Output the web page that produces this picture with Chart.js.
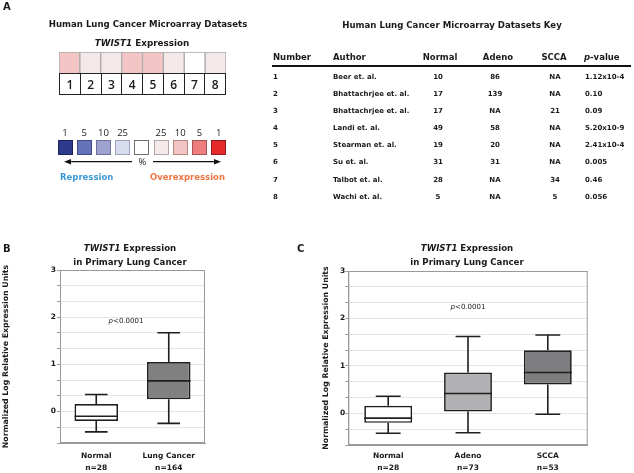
<!DOCTYPE html>
<html>
<head>
<meta charset="utf-8">
<script src="https://cdn.jsdelivr.net/npm/chart.js@4.4.1/dist/chart.umd.min.js"></script>
<style>
  body { margin: 0; width: 634px; height: 473px; position: relative; overflow: hidden; background: #fff;
         font-family: "DejaVu Sans", Verdana, sans-serif; color: #1a1a1a; }
  .txt { position: absolute; white-space: nowrap; line-height: 1; }
  canvas { position: absolute; }
  #nums { position: absolute; left: 59px; top: 73px; width: 167px; height: 22px; box-sizing: border-box;
          border: 1.5px solid #222; display: flex; font-family: "Open Sans", sans-serif; font-weight: 600; font-size: 12px; }
  #nums div { flex: 1; display: flex; align-items: center; justify-content: center; border-left: 1.5px solid #222; }
  #nums div:first-child { border-left: none; }
  .sw { position: absolute; width: 15px; height: 15px; box-sizing: border-box; border: 1.2px solid; }
  #rule { position: absolute; left: 272px; top: 65px; width: 359px; height: 2px; background: #111; }
</style>
</head>
<body>
<canvas id="heat" width="167" height="22" style="left:59px;top:52px"></canvas>
<div id="nums"></div>
<div id="rule"></div>
<svg width="634" height="473" style="position:absolute;left:0;top:0">
  <line x1="70" y1="161.7" x2="132" y2="161.7" stroke="#111" stroke-width="1.2"/>
  <polygon points="64,161.7 71,159 71,164.4" fill="#111"/>
  <line x1="153" y1="161.7" x2="215" y2="161.7" stroke="#111" stroke-width="1.2"/>
  <polygon points="221,161.7 214,159 214,164.4" fill="#111"/>
</svg>
<canvas id="boxB" width="215" height="233" style="left:0;top:240px"></canvas>
<canvas id="boxC" width="280" height="233" style="left:320px;top:240px"></canvas>
<script>
// heatmap: TWIST1 overexpression tier (top %) per dataset, 0 = not significant
const datasetIds = [1, 2, 3, 4, 5, 6, 7, 8];
const twistTier = [10, 25, 25, 10, 10, 25, 0, 25];

// colour key
const legendLabels = ['1', '5', '10', '25', '', '25', '10', '5', '1'];
const legendColors = ['#2e3a8c', '#6472b8', '#9da2cf', '#d8dcef', '#ffffff', '#f5e9e9', '#f3c4c4', '#ee7e7e', '#e42a2a'];
const legendEdges = ['#1c245e', '#3f4a87', '#6d729c', '#9ea3bb', '#6f6f6f', '#b3a5a5', '#b38585', '#a45454', '#8e1b1b'];
const overColor = { 0: '#ffffff', 25: '#f5e8e8', 10: '#f3c5c5' };

// key table
const authors = ['Beer et. al.', 'Bhattachrjee et. al.', 'Bhattachrjee et. al.', 'Landi et. al.',
  'Stearman et. al.', 'Su et. al.', 'Talbot et. al.', 'Wachi et. al.'];
const normalN = ['10', '17', '17', '49', '19', '31', '28', '5'];
const adenoN = ['86', '139', 'NA', '58', '20', '31', 'NA', 'NA'];
const sccaN = ['NA', 'NA', '21', 'NA', 'NA', 'NA', '34', '5'];
const pValues = ['1.12x10-4', '0.10', '0.09', '5.20x10-9', '2.41x10-4', '0.005', '0.46', '0.056'];

// panel B box plot
const groupsB = ['Normal', 'Lung Cancer'];
const countsB = [28, 164];
const minB = [-0.43, -0.25];
const q1B = [-0.20, 0.26];
const medianB = [-0.10, 0.65];
const q3B = [0.16, 1.05];
const maxB = [0.36, 1.67];

// panel C box plot
const groupsC = ['Normal', 'Adeno', 'SCCA'];
const countsC = [28, 73, 53];
const minC = [-0.42, -0.41, -0.02];
const q1C = [-0.20, 0.04, 0.61];
const medianC = [-0.10, 0.42, 0.86];
const q3C = [0.16, 0.86, 1.33];
const maxC = [0.36, 1.62, 1.65];

const yGridValues = [-2/3, -1/3, 0, 1/3, 2/3, 1, 4/3, 5/3, 2, 7/3, 8/3, 3];
const yTitle = 'Normalized Log Relative Expression Units';

function put(html, x, y, size, opts = {}) {
  const d = document.createElement('div');
  d.className = 'txt';
  d.innerHTML = html;
  d.style.left = x + 'px';
  d.style.top = y + 'px';
  d.style.fontSize = size + 'px';
  d.style.fontWeight = opts.weight || 'bold';
  d.style.transform = opts.align === 'left' ? 'translate(0,-50%)' : 'translate(-50%,-50%)';
  if (opts.color) d.style.color = opts.color;
  if (opts.font) d.style.fontFamily = opts.font;
  document.body.appendChild(d);
}

// ---- panel A text ----
put('A', 3, 7, 10, { align: 'left' });
put('Human Lung Cancer Microarray Datasets', 148, 24, 8.6);
put('Human Lung Cancer Microarray Datasets Key', 452, 25, 8.6);
put('<i>TWIST1</i> Expression', 142, 43, 8.8);

const nums = document.getElementById('nums');
datasetIds.forEach(n => {
  const c = document.createElement('div');
  c.textContent = n;
  nums.appendChild(c);
});

legendColors.forEach((col, i) => {
  const cx = 65 + i * 19.2;
  const s = document.createElement('div');
  s.className = 'sw';
  s.style.left = (cx - 7.5) + 'px';
  s.style.top = '140px';
  s.style.background = col;
  s.style.borderColor = legendEdges[i];
  document.body.appendChild(s);
  if (legendLabels[i]) put(legendLabels[i], cx, 132.7, 9.5, { weight: 500, font: '"Open Sans", sans-serif' });
});
put('%', 142.5, 162, 9.5, { weight: 500, font: '"Open Sans", sans-serif' });
put('Repression', 60, 176.7, 8.5, { align: 'left', color: '#3d9ad6' });
put('Overexpression', 150, 176.7, 8.5, { align: 'left', color: '#ef7444' });

// key table
put('Number', 273, 57.3, 8.5, { align: 'left' });
put('Author', 333, 57.3, 8.5, { align: 'left' });
put('Normal', 440, 57.3, 8.5);
put('Adeno', 498, 57.3, 8.5);
put('SCCA', 554, 57.3, 8.5);
put('<i>p</i>-value', 584, 57.3, 8.5, { align: 'left' });
authors.forEach((a, i) => {
  const y = 76.7 + i * 17.15;
  put(String(datasetIds[i]), 273, y, 7, { align: 'left' });
  put(a, 333, y, 7, { align: 'left' });
  put(normalN[i], 438, y, 7);
  put(adenoN[i], 495, y, 7);
  put(sccaN[i], 555, y, 7);
  put(pValues[i], 585, y, 7, { align: 'left' });
});

// ---- heatmap row ----
new Chart(document.getElementById('heat'), {
  type: 'bar',
  data: {
    labels: datasetIds,
    datasets: [{
      data: datasetIds.map(() => [0, 1]),
      backgroundColor: twistTier.map(t => overColor[t]),
      borderColor: '#a9a9a9',
      borderWidth: 1,
      borderSkipped: false,
      categoryPercentage: 1,
      barPercentage: 1
    }]
  },
  options: {
    responsive: false, animation: false, devicePixelRatio: 1,
    layout: { padding: 0 },
    plugins: { legend: { display: false }, tooltip: { enabled: false } },
    scales: { x: { display: false }, y: { display: false, min: 0, max: 1 } }
  }
});

// ---- box plots ----
const frame = {
  id: 'frame',
  beforeDatasetsDraw(chart) {
    const { ctx, chartArea: a } = chart;
    ctx.save();
    ctx.strokeStyle = '#9a9a9a';
    ctx.lineWidth = 1;
    ctx.strokeRect(a.left + 0.5, a.top + 0.5, a.right - a.left - 1, a.bottom - a.top - 1);
    ctx.restore();
  }
};

const whiskers = {
  id: 'whiskers',
  afterDatasetsDraw(chart, args, o) {
    const { ctx, scales: { y } } = chart;
    const meta = chart.getDatasetMeta(0);
    ctx.save();
    ctx.strokeStyle = '#1f1f1f';
    ctx.lineWidth = 1.6;
    meta.data.forEach((bar, i) => {
      const cx = bar.x, half = bar.width / 2, cap = bar.width * 0.26;
      const yMin = y.getPixelForValue(o.min[i]), yMax = y.getPixelForValue(o.max[i]);
      const yQ1 = y.getPixelForValue(o.q1[i]), yQ3 = y.getPixelForValue(o.q3[i]);
      const yMed = y.getPixelForValue(o.median[i]);
      ctx.beginPath();
      ctx.moveTo(cx, yQ3); ctx.lineTo(cx, yMax);
      ctx.moveTo(cx - cap, yMax); ctx.lineTo(cx + cap, yMax);
      ctx.moveTo(cx, yQ1); ctx.lineTo(cx, yMin);
      ctx.moveTo(cx - cap, yMin); ctx.lineTo(cx + cap, yMin);
      ctx.moveTo(cx - half, yMed); ctx.lineTo(cx + half, yMed);
      ctx.stroke();
    });
    ctx.restore();
  }
};

const pNote = {
  id: 'pNote',
  afterDraw(chart, args, o) {
    const { ctx, scales: { x, y } } = chart;
    const px = x.getPixelForValue(o.x), py = y.getPixelForValue(o.y);
    ctx.save();
    ctx.textBaseline = 'middle';
    ctx.fillStyle = '#1a1a1a';
    ctx.font = 'italic 7px "DejaVu Sans"';
    const w1 = ctx.measureText('p').width;
    ctx.font = '7px "DejaVu Sans"';
    const w2 = ctx.measureText('<0.0001').width;
    const left = px - (w1 + w2) / 2;
    ctx.font = 'italic 7px "DejaVu Sans"';
    ctx.fillText('p', left, py);
    ctx.font = '7px "DejaVu Sans"';
    ctx.fillText('<0.0001', left + w1, py);
    ctx.restore();
  }
};

function boxChart(id, groups, counts, mins, q1s, meds, q3s, maxs, fills, lay) {
  return new Chart(document.getElementById(id), {
    type: 'bar',
    data: {
      labels: groups.map((g, i) => [g, 'n=' + counts[i]]),
      datasets: [{
        data: q1s.map((q, i) => [q, q3s[i]]),
        backgroundColor: fills,
        borderColor: '#1f1f1f',
        borderWidth: 1.7,
        borderSkipped: false,
        categoryPercentage: 1,
        barPercentage: 0.6
      }]
    },
    options: {
      responsive: false, animation: false, devicePixelRatio: 1,
      layout: { padding: { top: lay.top, right: lay.right, left: 0, bottom: 0 } },
      plugins: {
        legend: { display: false },
        tooltip: { enabled: false },
        whiskers: { min: mins, q1: q1s, median: meds, q3: q3s, max: maxs },
        pNote: lay.note
      },
      scales: {
        x: {
          grid: { display: false, drawTicks: false },
          border: { color: '#9a9a9a' },
          ticks: { padding: lay.xPad, color: '#1a1a1a',
                   font: { family: '"DejaVu Sans"', size: 7.5, weight: 'bold', lineHeight: 1.6 } },
          afterFit: s => { s.height = lay.xHeight; }
        },
        y: {
          min: -2/3, max: 3,
          afterBuildTicks: s => { s.ticks = yGridValues.map(v => ({ value: v })); },
          grid: { color: '#e4e4e4', tickColor: '#9a9a9a', tickLength: 3 },
          border: { color: '#9a9a9a' },
          ticks: {
            autoSkip: false, padding: lay.yPad, color: '#1a1a1a',
            font: { family: '"DejaVu Sans"', size: 7.5, weight: 'bold' },
            callback: v => Math.abs(v - Math.round(v)) < 1e-6 ? Math.round(v) : ''
          },
          title: { display: true, text: yTitle, color: '#1a1a1a', padding: { top: 1.3, bottom: 0 },
                   font: { family: '"DejaVu Sans"', size: 7.8, weight: 'bold' } },
          afterFit: s => { s.width = lay.yWidth; }
        }
      }
    },
    plugins: [frame, whiskers, pNote]
  });
}

boxChart('boxB', groupsB, countsB, minB, q1B, medianB, q3B, maxB, ['#ffffff', '#808080'],
  { top: 30, right: 10, xHeight: 30, yWidth: 60, xPad: 6.7, yPad: 1, note: { x: 0.41, y: 1.91 } });
boxChart('boxC', groupsC, countsC, minC, q1C, medianC, q3C, maxC, ['#ffffff', '#b1b1b3', '#7e7e80'],
  { top: 31, right: 12.3, xHeight: 28, yWidth: 28.3, xPad: 4.7, yPad: 0, note: { x: 1, y: 2.23 } });

put('B', 3, 249, 10, { align: 'left' });
put('C', 297, 249, 10, { align: 'left' });
put('<i>TWIST1</i> Expression', 130, 248, 8.6);
put('in Primary Lung Cancer', 130, 261.5, 8.6);
put('<i>TWIST1</i> Expression', 467, 248, 8.6);
put('in Primary Lung Cancer', 467, 261.5, 8.6);
</script>
</body>
</html>
